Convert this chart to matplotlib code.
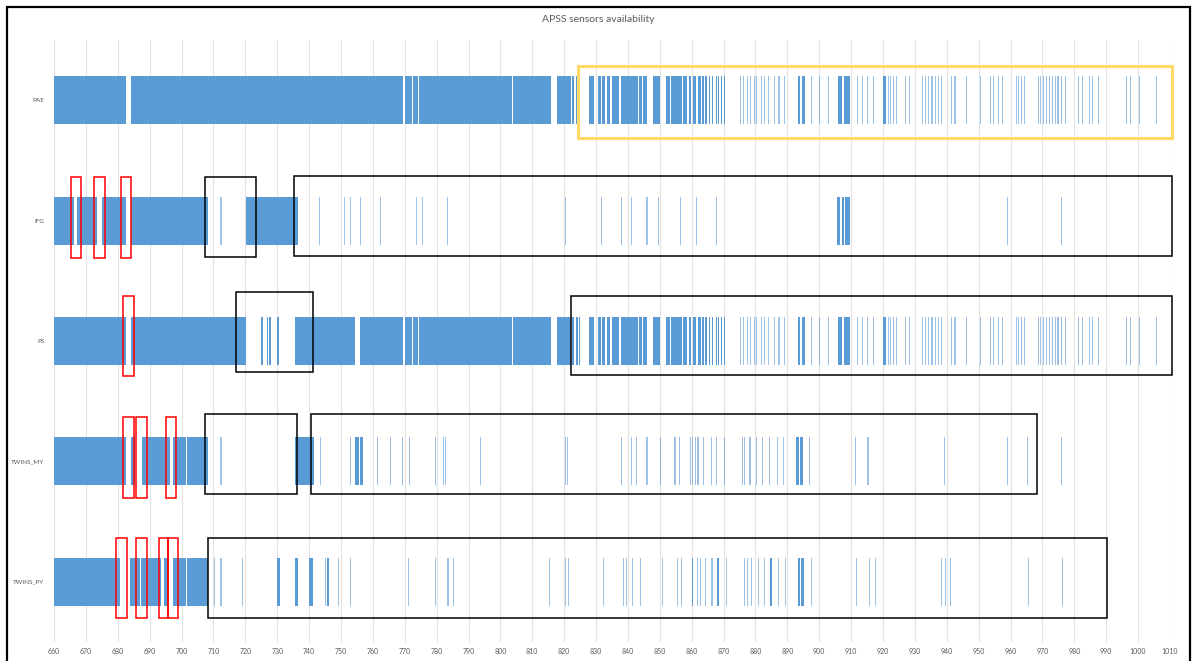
"""APSS sensors availability timeline (Excel-style broken bars with review boxes)."""

import matplotlib.pyplot as plt
from matplotlib.patches import Rectangle

sensors = ["PAE", "IFG", "PS", "TWINS_MY", "TWINS_PY"]
x_ticks = list(range(660, 1011, 10))

# common tail of PAE and PS (identical pattern after ~817)
tail_blocks = [
    (817.9, 822.1), (822.5, 823.2), (823.8, 824.2), (824.6, 825.1),
    (827.8, 829.5), (830.7, 831.6), (832.0, 832.8), (833.3, 834.5),
    (834.9, 837.3), (837.9, 843.2), (843.6, 844.4), (844.8, 846.1),
    (847.8, 850.1), (851.8, 853.1), (853.5, 856.8), (857.3, 858.5),
    (859.0, 859.9), (860.4, 861.4), (862.0, 862.8), (863.3, 863.7),
    (864.3, 864.7), (865.3, 865.7), (866.4, 866.8), (867.5, 867.8),
    (868.4, 868.7), (869.3, 869.6), (870.2, 870.5),
    (893.4, 894.1), (894.5, 895.5), (905.8, 907.0), (907.7, 909.5),
    (920.0, 920.8),
]
tail_ticks = [
    875.2, 876.2, 877.3, 878.3, 879.4, 880.2, 881.7, 882.7, 884.0, 885.7,
    887.2, 888.9, 897.4, 899.8, 902.8, 911.8, 913.3, 914.9, 916.7,
    921.5, 922.3, 923.1, 924.0, 926.9, 928.0, 932.1, 933.2, 934.2, 935.2,
    936.3, 937.3, 938.2, 941.3, 942.4, 946.1, 950.3, 953.4, 954.5, 956.1,
    957.4, 961.6, 962.4, 963.3, 964.3, 968.5, 969.3, 970.1, 971.0, 972.0,
    972.9, 973.9, 974.7, 975.8, 977.0, 981.2, 982.3, 984.6, 985.6, 987.4,
    996.3, 997.3, 1000.2, 1005.5,
]

pae_blocks = [
    (660, 682.5), (684, 769.6), (770.0, 772.2), (772.6, 774.1),
    (774.6, 803.5), (803.9, 816.0),
] + tail_blocks
pae_ticks = tail_ticks

ifg_blocks = [
    (660, 666.3), (667.3, 673.5), (675.0, 682.5), (684, 708.4),
    (720.3, 736.4), (905.6, 906.6), (907.0, 907.9), (908.2, 909.6),
]
ifg_ticks = [
    712.2, 743.0, 751.0, 752.7, 756.0, 762.3, 773.4, 775.3, 783.3, 820.3,
    831.6, 837.7, 841.0, 845.8, 849.3, 856.4, 861.3, 867.7, 959.0, 975.9,
]

ps_blocks = [
    (660, 682.5), (684, 720.2), (725.0, 725.5), (726.7, 727.2),
    (727.5, 728.0), (730.0, 730.5), (735.6, 754.3), (756.0, 769.6),
    (770.0, 772.2), (772.6, 774.1), (774.6, 803.5), (803.9, 816.0),
] + tail_blocks
ps_ticks = tail_ticks

my_blocks = [
    (660, 682.5), (684, 685.3), (687.5, 696.3), (697.3, 701.5),
    (701.8, 708.4), (735.6, 741.6), (754.4, 755.8), (756.0, 757.0),
    (892.8, 893.6), (893.9, 894.8),
]
my_ticks = [
    712.2, 743.3, 752.8, 761.3, 765.4, 769.1, 771.2, 779.6, 782.0, 782.6,
    793.6, 820.3, 821.0, 837.7, 841.0, 842.6, 845.8, 850.1, 854.6, 856.1,
    859.5, 860.0, 861.0, 861.8, 863.6, 865.9, 867.7, 870.1, 875.8, 876.3,
    878.1, 880.1, 881.9, 884.3, 886.6, 888.6, 896.9, 911.1, 915.1, 939.1,
    959.0, 965.2, 975.9,
]

py_blocks = [
    (660, 680.8), (683.9, 687.1), (687.4, 693.5), (694.4, 695.8),
    (697.3, 701.4), (701.7, 708.4), (729.9, 730.8), (735.6, 736.4),
    (740.1, 741.1), (745.6, 746.1), (860.0, 860.5), (868.0, 868.5),
    (884.7, 885.3), (893.2, 894.1), (894.4, 895.3),
]
py_ticks = [
    710.2, 712.2, 718.9, 744.9, 749.0, 752.8, 771.1, 779.6, 783.4, 785.1,
    815.1, 820.3, 821.2, 832.2, 838.3, 839.3, 841.2, 843.8, 850.6, 855.4,
    856.7, 861.6, 862.6, 864.1, 866.2, 870.6, 876.5, 877.3, 878.7, 880.7,
    882.7, 887.1, 889.1, 897.3, 911.5, 915.6, 917.4, 938.1, 939.4, 941.1,
    965.4, 976.1,
]

rows_blocks = [pae_blocks, ifg_blocks, ps_blocks, my_blocks, py_blocks]
rows_ticks = [pae_ticks, ifg_ticks, ps_ticks, my_ticks, py_ticks]

# review boxes drawn over the chart: (x0, x1, row_top, row_bottom, colour)
highlight_boxes = [
    (824.2, 1010.5, -0.28, 0.31, "#FFD966"),
    (665.4, 668.4, 0.64, 1.31, "#FF0000"),
    (672.7, 675.9, 0.64, 1.31, "#FF0000"),
    (681.1, 684.0, 0.64, 1.31, "#FF0000"),
    (707.2, 723.4, 0.64, 1.30, "black"),
    (735.4, 1010.5, 0.63, 1.29, "black"),
    (681.7, 685.0, 1.63, 2.29, "#FF0000"),
    (717.2, 741.3, 1.59, 2.26, "black"),
    (822.0, 1010.5, 1.63, 2.28, "black"),
    (681.7, 685.2, 2.63, 3.30, "#FF0000"),
    (685.8, 689.1, 2.63, 3.30, "#FF0000"),
    (695.2, 698.3, 2.63, 3.30, "#FF0000"),
    (707.2, 736.3, 2.61, 3.27, "black"),
    (740.7, 968.2, 2.61, 3.27, "black"),
    (679.4, 683.0, 3.64, 4.30, "#FF0000"),
    (685.8, 689.1, 3.64, 4.30, "#FF0000"),
    (692.8, 695.9, 3.64, 4.30, "#FF0000"),
    (695.9, 699.0, 3.64, 4.30, "#FF0000"),
    (708.4, 990.2, 3.64, 4.30, "black"),
]

BAR_COLOR = "#5B9BD5"
BAR_HEIGHT = 0.4
TICK_WIDTH = 0.35
TEXT_COLOR = "#595959"
FONT = ["Lato", "DejaVu Sans"]

fig = plt.figure(figsize=(11.96, 6.61), dpi=100)
ax = fig.add_axes([54 / 1196, 1 - 642 / 661, (1170 - 54) / 1196, (642 - 40) / 661])

for i, (blocks, ticks) in enumerate(zip(rows_blocks, rows_ticks)):
    ybar = (i - BAR_HEIGHT / 2, BAR_HEIGHT)
    ax.broken_barh([(s, e - s) for s, e in blocks], ybar,
                   facecolors=BAR_COLOR, edgecolor="none", zorder=2)
    # single short samples render as faint hairlines in the original
    ax.broken_barh([(t, TICK_WIDTH) for t in ticks], ybar,
                   facecolors=BAR_COLOR, edgecolor="none", alpha=0.6, zorder=2)

for x0, x1, y0, y1, color in highlight_boxes:
    lw = 2.2 if color == "#FFD966" else 1.1
    ax.add_patch(Rectangle((x0, y0), x1 - x0, y1 - y0, fill=False,
                           edgecolor=color, linewidth=lw, zorder=5, clip_on=False))

ax.set_xlim(660, 1010)
ax.set_ylim(4.5, -0.5)
ax.set_xticks(x_ticks)
ax.set_xticklabels([str(v) for v in x_ticks], fontsize=5, color=TEXT_COLOR, family=FONT)
ax.set_yticks(range(len(sensors)))
ax.set_yticklabels(sensors, fontsize=4.6, color=TEXT_COLOR, family=FONT)
ax.tick_params(axis="both", length=0)
ax.tick_params(axis="x", pad=4)
ax.tick_params(axis="y", pad=7)
for spine in ax.spines.values():
    spine.set_visible(False)
ax.grid(True, axis="x", color="#E3E3E3", linewidth=0.8, zorder=0)
ax.set_axisbelow(True)

fig.text(0.5, 1 - 20 / 661, "APSS sensors availability", ha="center", va="center",
         fontsize=7.5, color=TEXT_COLOR, family=FONT)

# outer frame around the pasted chart
fig.add_artist(Rectangle((7 / 1196, -0.01), (1190 - 7) / 1196, 1 - 7 / 661 + 0.01,
                         transform=fig.transFigure, fill=False,
                         edgecolor="black", linewidth=1.6))

fig.savefig("out.png", dpi=100)
